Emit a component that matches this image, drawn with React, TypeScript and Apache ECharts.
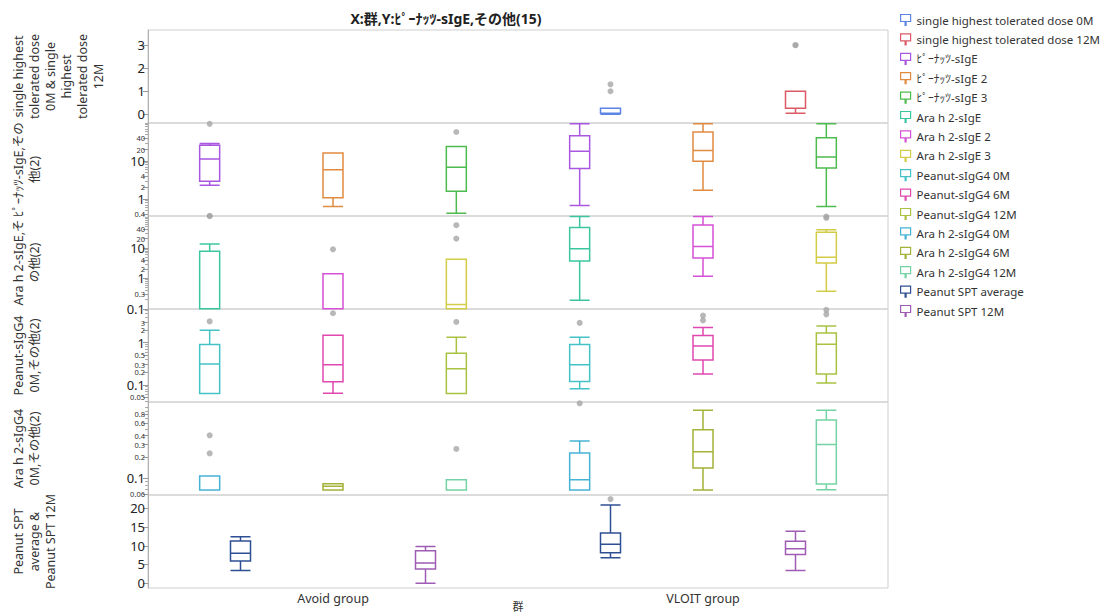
import React, { useEffect, useRef } from 'react';
import * as echarts from 'echarts';

const FONT = "'Noto Sans', 'Noto Sans CJK JP', sans-serif";

const groups = ['Avoid group', 'VLOIT group'];
const chartTitle = 'X:群,Y:ﾋﾟｰﾅｯﾂ-sIgE,その他(15)';
const xAxisTitle = '群';

// Box values per group [Avoid, VLOIT]: [min, Q1, median, Q3, max]
const shtd0MBoxes = [null, [0, 0.04, 0.04, 0.26, 0.26]];
const shtd0MOutliers = [[], [1.3, 1.0]];
const shtd12MBoxes = [null, [0.04, 0.26, 0.26, 1.0, 1.0]];
const shtd12MOutliers = [[], [3.0, 3.0]];

const pnIgEBoxes = [[2.3, 2.9, 11.3, 26, 29], [0.67, 6.3, 18, 46, 95]];
const pnIgEOutliers = [[95, 0.36], []];
const pnIgE2Boxes = [[0.63, 1.08, 5.9, 16.2, 16.2], [1.7, 9.8, 19, 58, 95]];
const pnIgE2Outliers = [[], []];
const pnIgE3Boxes = [[0.42, 1.6, 6.8, 24, 24], [0.63, 6.5, 12.7, 41, 95]];
const pnIgE3Outliers = [[58], []];

const araIgEBoxes = [[0.1, 0.1, 0.1, 7.7, 13.4], [0.19, 3.7, 9.3, 46, 105]];
const araIgEOutliers = [[108], []];
const araIgE2Boxes = [[0.1, 0.1, 0.1, 1.4, 1.4], [1.17, 4.6, 11, 56, 105]];
const araIgE2Outliers = [[8.9], []];
const araIgE3Boxes = [[0.1, 0.1, 0.14, 4.2, 4.2], [0.38, 3.2, 4.9, 32, 39]];
const araIgE3Outliers = [[55, 20], [105, 95]];

const pnG4_0MBoxes = [[0.062, 0.062, 0.31, 0.91, 1.97], [0.081, 0.12, 0.3, 0.91, 1.34]];
const pnG4_0MOutliers = [[3.2], [2.95]];
const pnG4_6MBoxes = [[0.063, 0.118, 0.3, 1.5, 1.5], [0.18, 0.39, 0.83, 1.47, 2.29]];
const pnG4_6MOutliers = [[5.0], [4.4, 3.4]];
const pnG4_12MBoxes = [[0.062, 0.062, 0.24, 0.56, 1.34], [0.11, 0.18, 0.92, 1.7, 2.5]];
const pnG4_12MOutliers = [[3.1], [6.0, 4.7]];

const araG4_0MBoxes = [[0.068, 0.068, 0.068, 0.108, 0.108], [0.068, 0.068, 0.095, 0.227, 0.336]];
const araG4_0MOutliers = [[0.405, 0.225], [1.15]];
const araG4_6MBoxes = [[0.068, 0.068, 0.077, 0.084, 0.084], [0.068, 0.14, 0.238, 0.485, 0.92]];
const araG4_6MOutliers = [[], []];
const araG4_12MBoxes = [[0.068, 0.068, 0.095, 0.095, 0.095], [0.069, 0.083, 0.3, 0.667, 0.92]];
const araG4_12MOutliers = [[0.26], []];

const sptAvgBoxes = [[3.4, 5.9, 8.0, 11.3, 12.4], [6.8, 8.15, 10.4, 13.4, 20.9]];
const sptAvgOutliers = [[], [22.5]];
const spt12MBoxes = [[0, 3.8, 5.4, 8.7, 9.8], [3.4, 7.7, 9.2, 11.2, 13.9]];
const spt12MOutliers = [[], []];

// Tick labels per panel
const p1Ticks = [0, 1, 2, 3];
const p2Ticks = [0.4, 1, 2, 4, 10, 20, 40];
const p3Ticks = [0.1, 0.3, 1, 2, 4, 10, 20, 40];
const p4Ticks = [0.05, 0.1, 0.2, 0.3, 0.5, 1, 2, 3];
const p5Ticks = [0.06, 0.1, 0.2, 0.3, 0.4, 0.6, 0.8];
const p6Ticks = [0, 5, 10, 15, 20];

const panelNames = [
  ['single highest', 'tolerated dose', '0M & single', 'highest', 'tolerated dose', '12M'],
  ['ﾋﾟｰﾅｯﾂ-sIgE,その', '他(2)'],
  ['Ara h 2-sIgE,そ', 'の他(2)'],
  ['Peanut-sIgG4', '0M,その他(2)'],
  ['Ara h 2-sIgG4', '0M,その他(2)'],
  ['Peanut SPT', 'average &', 'Peanut SPT 12M'],
];

const yDefs = [
  { type: 'value', min: -0.38, max: 3.66, ticks: p1Ticks, big: p1Ticks },
  { type: 'log', min: 0.355, max: 100, ticks: p2Ticks, big: [1, 10] },
  { type: 'log', min: 0.099, max: 110, ticks: p3Ticks, big: [0.1, 1, 10] },
  { type: 'log', min: 0.039, max: 6.3, ticks: p4Ticks, big: [0.1, 1] },
  { type: 'log', min: 0.058, max: 1.2, ticks: p5Ticks, big: [0.1] },
  { type: 'value', min: -1.3, max: 23.6, ticks: p6Ticks, big: p6Ticks },
];

const seriesDefs = [
  { name: 'single highest tolerated dose 0M', color: '#5b84e4', panel: 0, slot: 0, n: 2, boxes: shtd0MBoxes, outliers: shtd0MOutliers },
  { name: 'single highest tolerated dose 12M', color: '#dc5a64', panel: 0, slot: 1, n: 2, boxes: shtd12MBoxes, outliers: shtd12MOutliers },
  { name: 'ﾋﾟｰﾅｯﾂ-sIgE', color: '#a957e0', panel: 1, slot: 0, n: 3, boxes: pnIgEBoxes, outliers: pnIgEOutliers },
  { name: 'ﾋﾟｰﾅｯﾂ-sIgE 2', color: '#e08b40', panel: 1, slot: 1, n: 3, boxes: pnIgE2Boxes, outliers: pnIgE2Outliers },
  { name: 'ﾋﾟｰﾅｯﾂ-sIgE 3', color: '#4dbb4d', panel: 1, slot: 2, n: 3, boxes: pnIgE3Boxes, outliers: pnIgE3Outliers },
  { name: 'Ara h 2-sIgE', color: '#3cc6a0', panel: 2, slot: 0, n: 3, boxes: araIgEBoxes, outliers: araIgEOutliers },
  { name: 'Ara h 2-sIgE 2', color: '#d651d6', panel: 2, slot: 1, n: 3, boxes: araIgE2Boxes, outliers: araIgE2Outliers },
  { name: 'Ara h 2-sIgE 3', color: '#d2cc46', panel: 2, slot: 2, n: 3, boxes: araIgE3Boxes, outliers: araIgE3Outliers },
  { name: 'Peanut-sIgG4 0M', color: '#44c2c6', panel: 3, slot: 0, n: 3, boxes: pnG4_0MBoxes, outliers: pnG4_0MOutliers },
  { name: 'Peanut-sIgG4 6M', color: '#e048b0', panel: 3, slot: 1, n: 3, boxes: pnG4_6MBoxes, outliers: pnG4_6MOutliers },
  { name: 'Peanut-sIgG4 12M', color: '#a9c242', panel: 3, slot: 2, n: 3, boxes: pnG4_12MBoxes, outliers: pnG4_12MOutliers },
  { name: 'Ara h 2-sIgG4 0M', color: '#45b2d6', panel: 4, slot: 0, n: 3, boxes: araG4_0MBoxes, outliers: araG4_0MOutliers },
  { name: 'Ara h 2-sIgG4 6M', color: '#a4b238', panel: 4, slot: 1, n: 3, boxes: araG4_6MBoxes, outliers: araG4_6MOutliers },
  { name: 'Ara h 2-sIgG4 12M', color: '#74d2a4', panel: 4, slot: 2, n: 3, boxes: araG4_12MBoxes, outliers: araG4_12MOutliers },
  { name: 'Peanut SPT average', color: '#2f4f94', panel: 5, slot: 0, n: 2, boxes: sptAvgBoxes, outliers: sptAvgOutliers },
  { name: 'Peanut SPT 12M', color: '#9f5cb4', panel: 5, slot: 1, n: 2, boxes: spt12MBoxes, outliers: spt12MOutliers },
];

const GRID_LEFT = 148;
const GRID_RIGHT = 216;
const GRID_TOP = 30;
const PANEL_H = 93;

function fmt(v: number) {
  return String(Number(Number(v).toPrecision(6)));
}

function minorTicks(min: number, max: number, major: number[]) {
  const out: number[] = [];
  const d0 = Math.floor(Math.log10(min));
  const d1 = Math.ceil(Math.log10(max));
  for (let d = d0; d <= d1; d++) {
    for (let k = 1; k <= 9; k++) {
      const v = Number((k * Math.pow(10, d)).toPrecision(6));
      if (v >= min && v <= max && !major.some((m) => Math.abs(m - v) < 1e-9)) out.push(v);
    }
  }
  return out;
}

function buildOption() {
  const grids: any[] = [];
  const xAxes: any[] = [];
  const yAxes: any[] = [];
  const series: any[] = [];
  const graphics: any[] = [];

  for (let p = 0; p < 6; p++) {
    grids.push({
      left: GRID_LEFT,
      right: GRID_RIGHT,
      top: GRID_TOP + p * PANEL_H,
      height: PANEL_H,
      show: true,
      borderColor: '#cfcfcf',
      borderWidth: 1,
      backgroundColor: 'transparent',
      outerBoundsMode: 'none',
      containLabel: false,
    });
  }

  // visible group axis at the bottom
  xAxes.push({
    type: 'category',
    gridIndex: 5,
    position: 'bottom',
    data: groups,
    axisLine: { show: false },
    axisTick: { show: false },
    splitLine: { show: false },
    axisLabel: { fontSize: 12.5, color: '#333', margin: 4, fontFamily: FONT },
  });

  yDefs.forEach((d, p) => {
    yAxes.push({
      type: d.type,
      gridIndex: p,
      position: 'left',
      min: d.min,
      max: d.max,
      logBase: 10,
      axisLine: { show: true, lineStyle: { color: '#b0b0b0', width: 1 } },
      axisTick: { show: true, length: 5, customValues: d.ticks, lineStyle: { color: '#999' } },
      splitLine: { show: false },
      minorTick: { show: false },
      axisLabel: {
        customValues: d.ticks,
        margin: 3,
        hideOverlap: false,
        formatter: (v: number) => {
          const isBig = d.big.some((b) => Math.abs(b - v) < 1e-9);
          return isBig ? `{b|${fmt(v)}}` : `{s|${fmt(v)}}`;
        },
        rich: {
          b: { fontSize: 13, color: '#222', fontFamily: FONT },
          s: { fontSize: 7.5, lineHeight: 8, color: '#333', fontFamily: FONT },
        },
      },
    });
  });

  // minor tick overlays for log panels
  yDefs.forEach((d, p) => {
    if (d.type !== 'log') return;
    yAxes.push({
      type: 'log',
      gridIndex: p,
      position: 'left',
      min: d.min,
      max: d.max,
      logBase: 10,
      axisLine: { show: false },
      axisLabel: { show: false },
      splitLine: { show: false },
      axisTick: { show: true, length: 3, customValues: minorTicks(d.min, d.max, d.ticks), lineStyle: { color: '#aaa' } },
    });
  });

  seriesDefs.forEach((s, i) => {
    const slots = s.n * 2;
    const xIdx = xAxes.length;
    xAxes.push({
      type: 'category',
      gridIndex: s.panel,
      show: false,
      data: Array.from({ length: slots }, (_, k) => 'c' + k),
    });
    const boxData: any[] = [];
    for (let k = 0; k < slots; k++) boxData.push(['-', '-', '-', '-', '-']);
    const outData: any[] = [];
    for (let g = 0; g < 2; g++) {
      const idx = g * s.n + s.slot;
      const b = s.boxes[g];
      if (b) boxData[idx] = b.slice();
      (s.outliers[g] || []).forEach((v: number) => outData.push([idx, v]));
    }
    series.push({
      type: 'boxplot',
      name: s.name,
      xAxisIndex: xIdx,
      yAxisIndex: s.panel,
      data: boxData,
      boxWidth: [20, 20],
      silent: true,
      itemStyle: { color: '#fff', borderColor: s.color, borderWidth: 1.5 },
      emphasis: { disabled: true },
    });
    if (outData.length) {
      series.push({
        type: 'scatter',
        name: 'outliers ' + i,
        xAxisIndex: xIdx,
        yAxisIndex: s.panel,
        data: outData,
        symbol: 'circle',
        symbolSize: 6,
        silent: true,
        itemStyle: { color: '#a6a6a6' },
        z: 3,
      });
    }
  });

  // title
  graphics.push({
    type: 'text',
    x: 446,
    y: 18,
    style: {
      text: chartTitle,
      align: 'center',
      verticalAlign: 'middle',
      fontSize: 14,
      fontWeight: 'bold',
      fontFamily: FONT,
      fill: '#222',
    },
  });

  // x axis title
  graphics.push({
    type: 'text',
    x: 518,
    y: 606,
    style: {
      text: xAxisTitle,
      align: 'center',
      verticalAlign: 'middle',
      fontSize: 11,
      fontFamily: FONT,
      fill: '#333',
    },
  });

  // panel (y axis) names
  panelNames.forEach((lines, p) => {
    graphics.push({
      type: 'text',
      x: 10,
      y: GRID_TOP + p * PANEL_H + PANEL_H / 2,
      rotation: Math.PI / 2,
      style: {
        text: lines.join('\n'),
        align: 'center',
        verticalAlign: 'top',
        fontSize: 12.5,
        lineHeight: 16,
        fontFamily: FONT,
        fill: '#333',
      },
    });
  });

  return {
    animation: false,
    textStyle: { fontFamily: FONT },
    grid: grids,
    xAxis: xAxes,
    yAxis: yAxes,
    legend: {
      orient: 'vertical',
      left: 895,
      top: 8,
      itemWidth: 12,
      itemHeight: 11,
      itemGap: 5.4,
      icon: 'path://M1,0H11V7H1Z M5.5,7H6.5V11H5.5Z',
      itemStyle: { color: '#fff', borderWidth: 1.2 },
      textStyle: { fontSize: 11.5, lineHeight: 14, color: '#333', fontFamily: FONT },
      data: seriesDefs.map((s) => s.name),
      selectedMode: false,
    },
    graphic: graphics,
    series,
  };
}

export default function App() {
  const ref = useRef<HTMLDivElement>(null);
  useEffect(() => {
    if (!ref.current) return;
    const chart = echarts.init(ref.current, null, { renderer: 'svg' });
    chart.setOption(buildOption() as any);
    return () => chart.dispose();
  }, []);
  return (
    <div
      ref={ref}
      style={{ position: 'absolute', left: 0, top: 0, width: 1104, height: 615, background: '#fff' }}
    />
  );
}
